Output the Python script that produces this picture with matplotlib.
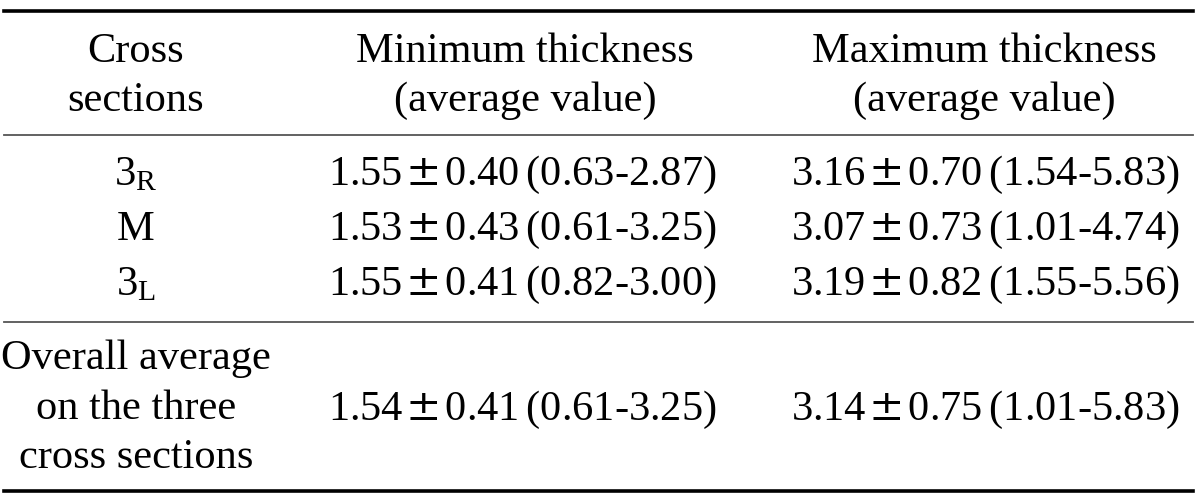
import matplotlib
matplotlib.use("Agg")
import matplotlib.pyplot as plt
from matplotlib.lines import Line2D

plt.rcParams['font.family'] = ['Liberation Serif', 'DejaVu Serif']
plt.rcParams['mathtext.fontset'] = 'dejavuserif'

# ---- data ----
headers = ["Cross\nsections", "Minimum thickness\n(average value)", "Maximum thickness\n(average value)"]
sections = [r"$\mathregular{3_R}$", "M", r"$\mathregular{3_L}$"]
min_mean = [1.55, 1.53, 1.55]
min_sd = [0.40, 0.43, 0.41]
min_lo = [0.63, 0.61, 0.82]
min_hi = [2.87, 3.25, 3.00]
max_mean = [3.16, 3.07, 3.19]
max_sd = [0.70, 0.73, 0.82]
max_lo = [1.54, 1.01, 1.55]
max_hi = [5.83, 4.74, 5.56]
overall_label = ["Overall average", "on the three", "cross sections"]
overall_min = (1.54, 0.41, 0.61, 3.25)
overall_max = (3.14, 0.75, 1.01, 5.83)

W, H = 1200, 503
fig = plt.figure(figsize=(W / 100, H / 100), dpi=100)
fig.patch.set_facecolor("white")

FS = 30.5
head_x = [136, 525, 984]
data_x = [136, 522, 985]


def fx(x):
    return x / W


def fy(y):
    return 1 - y / H


def txt(x, y, s):
    fig.text(fx(x), fy(y), s, ha="center", va="baseline", fontsize=FS, color="black")


def cell(m, sd, lo, hi):
    return (f"{m:.2f}$\\hspace{{0.09}}{{\\pm}}\\hspace{{0.09}}${sd:.2f}"
            f"$\\,$({lo:.2f}-{hi:.2f})")


def hline(y, lw, color):
    fig.add_artist(Line2D([fx(4), fx(1193)], [fy(y), fy(y)], lw=lw, color=color,
                          transform=fig.transFigure))


# rules
hline(11, 2.6, "black")
hline(135, 1.3, "#555555")
hline(322, 1.3, "#555555")
hline(491, 2.6, "black")

# header
for x, h in zip(head_x, headers):
    l1, l2 = h.split("\n")
    txt(x, 62, l1)
    txt(x, 111, l2)

# rows
row_base = [185, 240, 295]
for i, yb in enumerate(row_base):
    txt(data_x[0], yb, sections[i])
    txt(data_x[1], yb, cell(min_mean[i], min_sd[i], min_lo[i], min_hi[i]))
    txt(data_x[2], yb, cell(max_mean[i], max_sd[i], max_lo[i], max_hi[i]))

# overall
for yb, s in zip([369, 419, 468], overall_label):
    txt(data_x[0], yb, s)
txt(data_x[1], 420, cell(*overall_min))
txt(data_x[2], 420, cell(*overall_max))

fig.savefig("out.png", dpi=100)
